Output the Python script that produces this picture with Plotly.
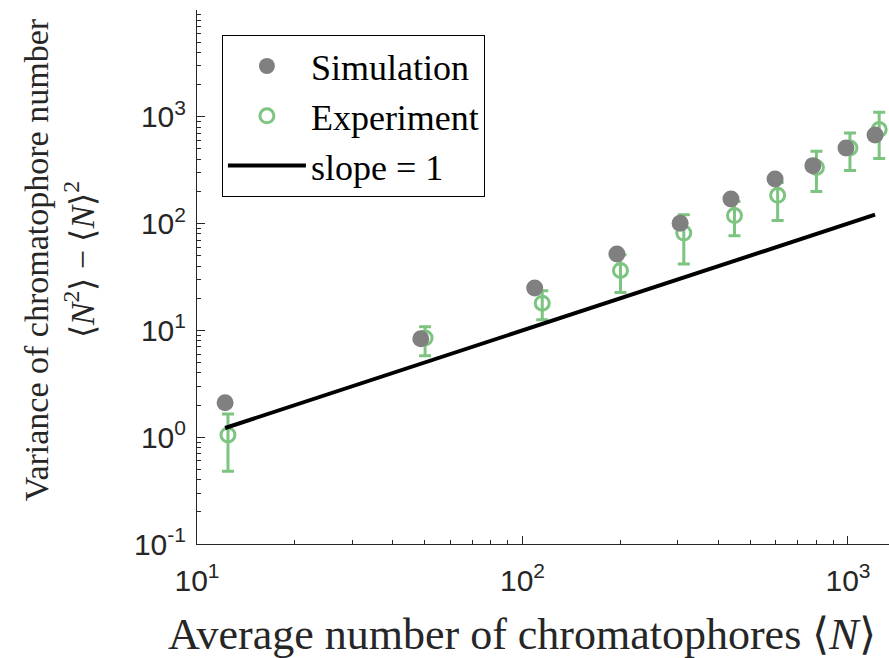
import plotly.graph_objects as go

# Simulation: mean chromatophore number and variance
sim_n = [12.2, 48.7, 109, 195, 305, 437, 597, 780, 986, 1211]
sim_var = [2.10, 8.35, 24.9, 51.9, 101, 170, 262, 349, 511, 677]

# Experiment: mean, variance and error-bar limits
exp_n = [12.45, 50.2, 115, 200, 313, 448, 608, 800, 1014, 1247]
exp_var = [1.05, 8.47, 18.0, 36.4, 81.6, 119, 184, 336, 511, 759]
exp_hi = [1.65, 10.8, 23.5, 51.1, 121, 161, 242, 475, 706, 1102]
exp_lo = [0.48, 5.78, 12.6, 22.7, 41.8, 77, 107, 200, 315, 408]

# Reference line of slope 1 (variance = N / 10)
ref_n = [12.2, 1211]
ref_var = [n / 10 for n in ref_n]

y_tickvals = [0.1, 1, 10, 100, 1000]
y_ticktext = ["10<sup>-1</sup>", "10<sup>0</sup>", "10<sup>1</sup>", "10<sup>2</sup>", "10<sup>3</sup>"]
x_tickvals = [10, 100, 1000]
x_ticktext = ["10<sup>1</sup>", "10<sup>2</sup>", "10<sup>3</sup>"]

GRAY = "#808080"
GREEN = "#7CC47F"
AXIS = "#262626"
SERIF = "Liberation Serif"
SANS = "Liberation Sans"

fig = go.Figure()

fig.add_trace(go.Scatter(
    x=exp_n, y=exp_var, mode="markers", name="Experiment", legendrank=2,
    marker=dict(symbol="circle-open", size=14, color=GREEN, line=dict(width=3, color=GREEN)),
    error_y=dict(type="data", symmetric=False,
                 array=[h - v for h, v in zip(exp_hi, exp_var)],
                 arrayminus=[v - l for v, l in zip(exp_var, exp_lo)],
                 color=GREEN, thickness=3, width=6),
))

fig.add_trace(go.Scatter(
    x=sim_n, y=sim_var, mode="markers", name="Simulation", legendrank=1,
    marker=dict(symbol="circle", size=17, color=GRAY, line=dict(width=0)),
))

fig.add_trace(go.Scatter(
    x=ref_n, y=ref_var, mode="lines", name="slope = 1", legendrank=3,
    line=dict(color="black", width=4),
))

fig.update_layout(
    width=889, height=658,
    margin=dict(l=197, r=0, t=10, b=114),
    paper_bgcolor="white", plot_bgcolor="white",
    showlegend=True,
    legend=dict(
        x=0.036, y=0.953, xanchor="left", yanchor="top",
        bordercolor="black", borderwidth=1, bgcolor="white",
        font=dict(family=SERIF, size=36, color="black"),
        tracegroupgap=0, itemwidth=78,
    ),
    font=dict(family=SANS, color=AXIS),
)

fig.update_xaxes(
    type="log", range=[1, 3.126],
    showline=True, linecolor=AXIS, linewidth=1, mirror=False,
    showgrid=False, zeroline=False,
    ticks="inside", ticklen=8, tickcolor=AXIS,
    tickvals=x_tickvals, ticktext=x_ticktext,
    tickfont=dict(family=SANS, size=30, color=AXIS),
    ticklabelstandoff=10,
    minor=dict(ticks="inside", ticklen=4, tickcolor=AXIS, dtick="D1", showgrid=False),
)

fig.update_yaxes(
    type="log", range=[-1, 4],
    showline=True, linecolor=AXIS, linewidth=1, mirror=False,
    showgrid=False, zeroline=False,
    ticks="inside", ticklen=8, tickcolor=AXIS,
    tickvals=y_tickvals, ticktext=y_ticktext,
    tickfont=dict(family=SANS, size=30, color=AXIS),
    ticklabelstandoff=4,
    minor=dict(ticks="inside", ticklen=4, tickcolor=AXIS, dtick="D1", showgrid=False),
)

fig.add_annotation(
    text="Average number of chromatophores ⟨<i>N</i>⟩",
    xref="paper", yref="paper", x=0.469, y=-0.170,
    xanchor="center", yanchor="middle", showarrow=False,
    font=dict(family=SERIF, size=44, color=AXIS),
)
fig.add_annotation(
    text="Variance of chromatophore number",
    xref="paper", yref="paper", x=-0.232, y=0.532, textangle=-90,
    xanchor="center", yanchor="middle", showarrow=False,
    font=dict(family=SERIF, size=34, color=AXIS),
)
fig.add_annotation(
    text="⟨<i>N</i><sup>2</sup>⟩ − ⟨<i>N</i>⟩<sup>2</sup>",
    xref="paper", yref="paper", x=-0.170, y=0.532, textangle=-90,
    xanchor="center", yanchor="middle", showarrow=False,
    font=dict(family=SERIF, size=34, color=AXIS),
)

fig.write_html("out.html")
